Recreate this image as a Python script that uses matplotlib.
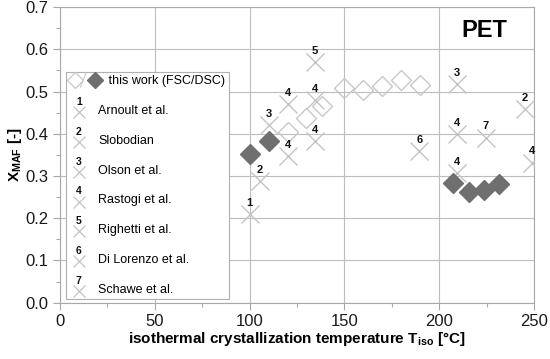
import matplotlib
matplotlib.use("Agg")
import matplotlib.pyplot as plt
from matplotlib.lines import Line2D
from matplotlib.text import Text
from matplotlib.legend_handler import HandlerBase

plt.rcParams['font.family'] = ['Liberation Sans', 'DejaVu Sans']
plt.rcParams['mathtext.fontset'] = 'custom'
plt.rcParams['mathtext.rm'] = 'Liberation Sans'
plt.rcParams['mathtext.bf'] = 'Liberation Sans:bold'

# this work, FSC (open) and DSC (filled)
fsc_x = [120, 130, 138, 150, 160, 170, 180, 190]
fsc_y = [0.405, 0.437, 0.466, 0.508, 0.503, 0.513, 0.528, 0.515]
dsc_x = [100, 110, 207.5, 215.5, 223.5, 231.5]
dsc_y = [0.352, 0.383, 0.284, 0.263, 0.266, 0.280]

# literature values, ref_id points into ref_names
ref_x = [100, 105.5, 110, 245, 209.5, 120, 120, 134.5, 134.5, 209.5, 209.5, 249, 134.5, 189.5, 224.5]
ref_y = [0.209, 0.288, 0.420, 0.459, 0.518, 0.471, 0.348, 0.479, 0.383, 0.399, 0.308, 0.332, 0.570, 0.360, 0.391]
ref_id = [1, 2, 3, 2, 3, 4, 4, 4, 4, 4, 4, 4, 5, 6, 7]
ref_names = ['Arnoult et al.', 'Slobodian', 'Olson et al.', 'Rastogi et al.',
             'Righetti et al.', 'Di Lorenzo et al.', 'Schawe et al.']

cross_col = '#c4c4c4'
open_col = '#c8c8c8'
fill_col = '#6f6f6f'


class HandlerNumberedCross(HandlerBase):
    def __init__(self, num):
        super().__init__()
        self.num = num

    def create_artists(self, legend, orig_handle, xdescent, ydescent, width, height, fontsize, trans):
        cx = 0.4 * width - xdescent
        cy = height / 2 - ydescent - 2
        m = Line2D([cx], [cy], marker='x', ms=9, mew=0.9, mec=cross_col, ls='none', transform=trans)
        t = Text(cx, cy + 7.5, str(self.num), ha='center', va='center', fontsize=7.5,
                 fontweight='bold', color='#111111', transform=trans)
        return [m, t]


class HandlerDiamondPair(HandlerBase):
    def create_artists(self, legend, orig_handle, xdescent, ydescent, width, height, fontsize, trans):
        cy = height / 2 - ydescent
        a = Line2D([-xdescent + 4], [cy], marker='D', ms=8, mfc='white', mec=open_col, mew=0.9,
                   ls='none', transform=trans)
        s = Line2D([-xdescent + 8, -xdescent + 12], [cy - 5, cy + 5], color=open_col, lw=0.8,
                   transform=trans)
        b = Line2D([-xdescent + 18.5], [cy], marker='D', ms=8, mfc=fill_col, mec=fill_col,
                   ls='none', transform=trans)
        return [a, s, b]


fig, ax = plt.subplots(figsize=(5.5, 3.59), dpi=100)
fig.subplots_adjust(left=0.109, right=0.971, bottom=0.157, top=0.98)

ax.plot(fsc_x, fsc_y, ls='none', marker='D', ms=10.5, mfc='none', mec=open_col, mew=1.0, zorder=3)
ax.plot(ref_x, ref_y, ls='none', marker='x', ms=13, mew=1.0, mec=cross_col, zorder=4)
ax.plot(dsc_x, dsc_y, ls='none', marker='D', ms=10.5, mfc=fill_col, mec=fill_col, zorder=5)
for x, y, n in zip(ref_x, ref_y, ref_id):
    ax.annotate(str(n), (x, y), xytext=(0, 8), textcoords='offset points', ha='center', va='center',
                fontsize=8, fontweight='bold', color='#111111', zorder=6)

ax.text(224, 0.645, 'PET', ha='center', va='center', fontsize=17, fontweight='bold')

ax.set_xlim(0, 250)
ax.set_ylim(0, 0.7)
ax.set_xticks(range(0, 251, 50))
ax.set_xticks(range(25, 250, 50), minor=True)
ax.set_yticks([i / 10 for i in range(8)])
ax.set_yticks([i / 20 for i in range(1, 14, 2)], minor=True)
ax.set_yticklabels([f'{i / 10:.1f}' for i in range(8)])
ax.grid(True, which='major', color='#bdbdbd', lw=0.8)
ax.set_axisbelow(True)
for sp in ax.spines.values():
    sp.set_color('#a8a8a8')
    sp.set_linewidth(0.8)
ax.tick_params(which='major', direction='out', length=5, width=0.8, color='#a8a8a8',
               labelsize=12, pad=3, labelcolor='#1a1a1a')
ax.tick_params(which='minor', direction='out', length=3, width=0.8, color='#a8a8a8')

ax.set_xlabel(r'isothermal crystallization temperature T$_{\mathbf{iso}}$ [°C]',
              fontsize=11, fontweight='bold', labelpad=1)
ax.set_ylabel(r'$\mathbf{X}_{\mathbf{MAF}}$ [-]', fontsize=11, fontweight='bold', labelpad=1)

# legend
pair = Line2D([], [])
handles = [pair]
labels = ['   this work (FSC/DSC)']
hmap = {pair: HandlerDiamondPair()}
for i, name in enumerate(ref_names):
    h = Line2D([], [])
    handles.append(h)
    labels.append(name)
    hmap[h] = HandlerNumberedCross(i + 1)
leg = ax.legend(handles, labels, handler_map=hmap, loc='upper left', bbox_to_anchor=(0.012, 0.782),
                borderaxespad=0, fontsize=9, frameon=True, fancybox=False, framealpha=1,
                edgecolor='#b0b0b0', handlelength=1.9, handletextpad=0.4, labelspacing=1.42,
                borderpad=0.3)
leg.get_frame().set_linewidth(0.8)
leg.set_zorder(2)

fig.savefig('out.png', dpi=100)
